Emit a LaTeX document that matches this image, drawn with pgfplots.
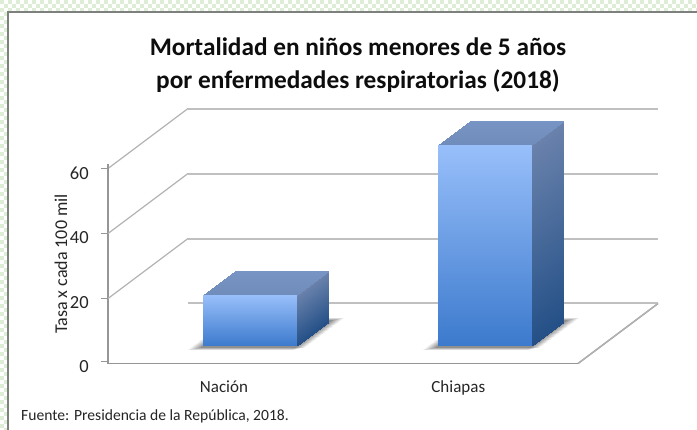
\documentclass[border=0pt]{standalone}
\usepackage{fontspec}
\setmainfont{Carlito}
\usepackage{pgfplots}
\pgfplotsset{compat=1.18}
\definecolor{chk}{RGB}{222,238,214}
\definecolor{frm}{RGB}{125,128,125}
\definecolor{wall}{RGB}{192,192,192}
\definecolor{sidewall}{RGB}{178,178,178}
\definecolor{axl}{RGB}{150,150,150}
\begin{document}
\begin{tikzpicture}[x=1pt,y=1pt]
\useasboundingbox (0,0) rectangle (697,429);
\clip (0,0) rectangle (697,429);
\foreach \i in {0,...,174}{\foreach \j in {0,...,2}{%
  \pgfmathparse{int(mod(\i+\j,2))}%
  \ifnum\pgfmathresult=0 \fill[chk] (\i*4,429-\j*4-4) rectangle ++(4,4);\fi}}
\foreach \j in {3,...,107}{\foreach \i in {0,1}{%
  \pgfmathparse{int(mod(\i+\j,2))}%
  \ifnum\pgfmathresult=0 \fill[chk] (\i*4,429-\j*4-4) rectangle ++(4,4);\fi}}
\fill[white] (8,-1) rectangle (698,417);
\draw[frm,line width=2] (8,-2) -- (8,417) -- (699,417);
\begin{axis}[
  at={(108pt,65.5pt)}, anchor=origin,
  x={(235pt,0pt)}, y={(80pt,60pt)}, z={(0pt,3.25pt)},
  xmin=0,xmax=2,ymin=0,ymax=1,zmin=0,zmax=60,
  clip=false,
  axis lines=left,
  axis line style={-,draw=axl,line width=1.4pt},
  xtick={0.5,1.5}, xticklabels={Nación,Chiapas},
  ytick=\empty,
  ztick={0,20,40,60},
  xtick style={draw=none},
  ztick style={draw=none},
  tickwidth=6pt,
  tick align=outside,
  /pgf/number format/assume math mode=true,
  xticklabel style={font=\fontsize{17}{20}\selectfont,text=black!85,xshift=8pt,yshift=-10pt},
  zticklabel style={font=\fontsize{18.5}{22}\selectfont,text=black!85,xshift=-11pt,yshift=3.5pt},
  point meta min=0, point meta max=43,
  colormap={barcols}{
    rgb255(0)=(60,122,205) rgb255(10)=(152,191,250)
    rgb255(11)=(36,80,135) rgb255(21)=(106,130,172)
    rgb255(22)=(112,140,186) rgb255(32)=(120,148,196)
    rgb255(33)=(255,255,255) rgb255(43)=(143,143,143)
  },
]
% back and left walls
\addplot3[no marks,draw=wall,line width=2pt] coordinates {(0,1,0) (2,1,0)};
\addplot3[no marks,draw=wall,line width=2pt] coordinates {(0,1,20) (2,1,20)};
\addplot3[no marks,draw=wall,line width=2pt] coordinates {(0,1,40) (2,1,40)};
\addplot3[no marks,draw=wall,line width=2pt] coordinates {(0,1,60) (2,1,60)};
\addplot3[no marks,draw=sidewall,line width=1.2pt] coordinates {(0,0,20) (0,1,20)};
\addplot3[no marks,draw=sidewall,line width=1.2pt] coordinates {(0,0,40) (0,1,40)};
\addplot3[no marks,draw=sidewall,line width=1.2pt] coordinates {(0,0,60) (0,1,60)};
\addplot3[no marks,draw=sidewall,line width=1.2pt] coordinates {(2,0,0) (2,1,0)};
% axis top stub and horizontal ticks
\addplot3[no marks,draw=axl,line width=1.4pt] coordinates {(0,0,60) (0,0,61.5)};
\addplot3[no marks,draw=axl,line width=1pt] coordinates {(-0.03,0,0.5) (0,0,0.5)};
\addplot3[no marks,draw=axl,line width=1pt] coordinates {(-0.03,0,20) (0,0,20)};
\addplot3[no marks,draw=axl,line width=1pt] coordinates {(-0.03,0,40) (0,0,40)};
\addplot3[no marks,draw=axl,line width=1pt] coordinates {(-0.03,0,60) (0,0,60)};
% Nacion: shadow, side, top, front
\addplot3[surf,shader=interp,mesh/rows=4,mesh/cols=4,point meta=explicit] coordinates {
(0.255,0.23,0) [33] (0.30,0.23,0) [33] (0.70,0.23,0) [33] (0.745,0.23,0) [33]
(0.255,0.28,0) [33] (0.30,0.28,0) [43] (0.70,0.28,0) [43] (0.745,0.28,0) [33]
(0.255,0.73,0) [33] (0.30,0.73,0) [43] (0.70,0.73,0) [43] (0.745,0.73,0) [33]
(0.255,0.77,0) [33] (0.30,0.77,0) [33] (0.70,0.77,0) [33] (0.745,0.77,0) [33]
};
\addplot3[surf,shader=interp,mesh/rows=2,mesh/cols=2,point meta=explicit] coordinates {
(0.70,0.3,0) [11] (0.70,0.7,0) [11]
(0.70,0.3,15.5) [21] (0.70,0.7,15.5) [21]
};
\addplot3[surf,shader=interp,mesh/rows=2,mesh/cols=2,point meta=explicit] coordinates {
(0.30,0.3,15.5) [22] (0.70,0.3,15.5) [22]
(0.30,0.7,15.5) [32] (0.70,0.7,15.5) [32]
};
\addplot3[surf,shader=interp,mesh/rows=2,mesh/cols=2,point meta=explicit] coordinates {
(0.30,0.3,0) [0] (0.70,0.3,0) [0]
(0.30,0.3,15.5) [10] (0.70,0.3,15.5) [10]
};
% Chiapas
\addplot3[surf,shader=interp,mesh/rows=4,mesh/cols=4,point meta=explicit] coordinates {
(1.255,0.23,0) [33] (1.30,0.23,0) [33] (1.70,0.23,0) [33] (1.745,0.23,0) [33]
(1.255,0.28,0) [33] (1.30,0.28,0) [43] (1.70,0.28,0) [43] (1.745,0.28,0) [33]
(1.255,0.73,0) [33] (1.30,0.73,0) [43] (1.70,0.73,0) [43] (1.745,0.73,0) [33]
(1.255,0.77,0) [33] (1.30,0.77,0) [33] (1.70,0.77,0) [33] (1.745,0.77,0) [33]
};
\addplot3[surf,shader=interp,mesh/rows=2,mesh/cols=2,point meta=explicit] coordinates {
(1.70,0.3,0) [11] (1.70,0.7,0) [11]
(1.70,0.3,61.7) [21] (1.70,0.7,61.7) [21]
};
\addplot3[surf,shader=interp,mesh/rows=2,mesh/cols=2,point meta=explicit] coordinates {
(1.30,0.3,61.7) [22] (1.70,0.3,61.7) [22]
(1.30,0.7,61.7) [32] (1.70,0.7,61.7) [32]
};
\addplot3[surf,shader=interp,mesh/rows=2,mesh/cols=2,point meta=explicit] coordinates {
(1.30,0.3,0) [0] (1.70,0.3,0) [0]
(1.30,0.3,61.7) [10] (1.70,0.3,61.7) [10]
};
\end{axis}
\node[font=\bfseries\fontsize{25.3}{33}\selectfont,align=center,text=black!95] at (358,364) {Mortalidad en niños menores de 5 años\\por enfermedades respiratorias (2018)};
\node[rotate=90,font=\fontsize{18}{20}\selectfont,text=black!85] at (61,165) {Tasa x cada 100 mil};
\node[anchor=west,inner sep=0pt,font=\fontsize{15.6}{18}\selectfont,text=black!85] at (21,13) {Fuente: Presidencia de la República, 2018.};
\end{tikzpicture}
\end{document}
